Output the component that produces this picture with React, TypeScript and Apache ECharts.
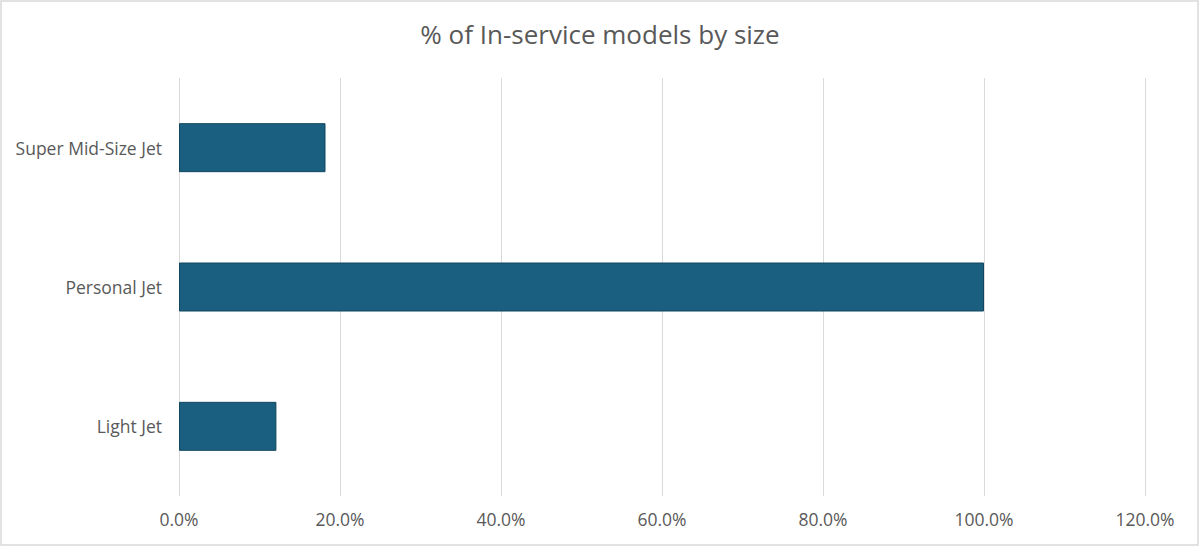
import { useEffect, useRef } from "react"
import * as echarts from "echarts"

const categories = ["Light Jet", "Personal Jet", "Super Mid-Size Jet"]
const shares = [12.1, 100, 18.2]
const tickValues = [0, 20, 40, 60, 80, 100, 120]

const FONT = "'Open Sans', 'Noto Sans', sans-serif"

export default function App() {
  const chartRef = useRef<HTMLDivElement>(null)

  useEffect(() => {
    document.body.style.margin = "0"
    if (!chartRef.current) return
    const chart = echarts.init(chartRef.current, null, { renderer: "svg" })

    const option: echarts.EChartsOption = {
      animation: false,
      backgroundColor: "#ffffff",
      textStyle: { fontFamily: FONT },
      title: {
        text: "% of In-service models by size",
        left: "center",
        top: 16,
        textStyle: {
          fontFamily: FONT,
          fontSize: 26,
          fontWeight: "normal",
          color: "#595959",
        },
      },
      graphic: [
        {
          type: "rect",
          shape: { x: 1, y: 1, width: 1197, height: 544 },
          style: { fill: "none", stroke: "#d9d9d9", lineWidth: 1.5 },
          silent: true,
        },
      ],
      grid: {
        left: 179,
        right: 55,
        top: 78,
        bottom: 50,
        containLabel: false,
      },
      xAxis: {
        type: "value",
        min: tickValues[0],
        max: tickValues[tickValues.length - 1],
        interval: 20,
        axisLine: { show: false },
        axisTick: { show: false },
        splitLine: { lineStyle: { color: "#d9d9d9", width: 1 } },
        axisLabel: {
          color: "#595959",
          fontSize: 17.5,
          fontFamily: FONT,
          margin: 14,
          formatter: (v: number) => v.toFixed(1) + "%",
        },
      },
      yAxis: {
        type: "category",
        data: categories,
        axisLine: { show: false },
        axisTick: { show: false },
        axisLabel: {
          color: "#595959",
          fontSize: 17.5,
          fontFamily: FONT,
          margin: 17,
        },
      },
      series: [
        {
          type: "bar",
          data: shares,
          barWidth: 49,
          itemStyle: {
            color: "#1a5f80",
            borderColor: "#12465f",
            borderWidth: 1,
          },
        },
      ],
    }

    chart.setOption(option)
    return () => {
      chart.dispose()
    }
  }, [])

  return <div ref={chartRef} style={{ width: "1200px", height: "546px" }} />
}
